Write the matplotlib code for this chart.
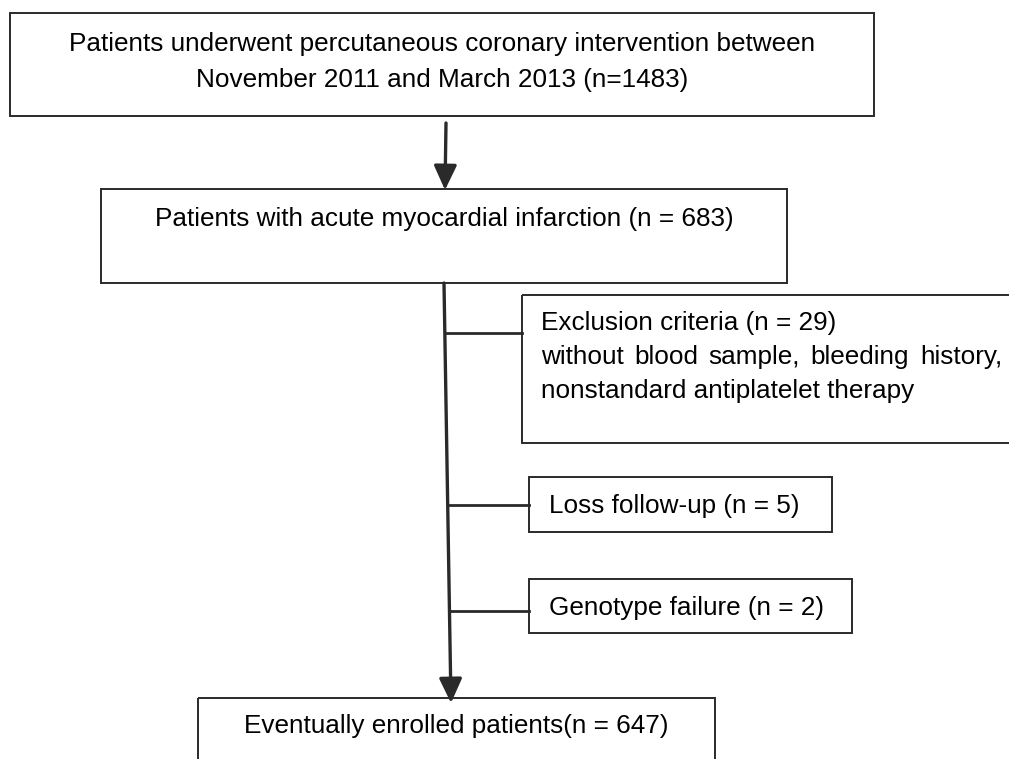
import matplotlib.pyplot as plt
from matplotlib.patches import Rectangle

plt.rcParams['font.family'] = ['Liberation Sans', 'DejaVu Sans']

# flowchart content
total_pci = 1483
ami = 683
excluded = 29
lost = 5
geno_fail = 2
enrolled = 647

top_lines = ['Patients underwent percutaneous coronary intervention between',
             f'November 2011 and March 2013 (n={total_pci})']
ami_label = f'Patients with acute myocardial infarction (n = {ami})'
excl_lines = [f'Exclusion criteria (n = {excluded})',
              'without blood sample, bleeding history,',
              'nonstandard antiplatelet therapy']
lost_label = f'Loss follow-up (n = {lost})'
geno_label = f'Genotype failure (n = {geno_fail})'
final_label = f'Eventually enrolled patients(n = {enrolled})'

fig = plt.figure(figsize=(10.09, 7.59), dpi=100)
ax = fig.add_axes([0, 0, 1, 1])
ax.set_xlim(0, 1009)
ax.set_ylim(759, 0)
ax.axis('off')

ec = '#2a2a2a'
fs = 18.8


def box(x0, y0, x1, y1):
    ax.add_patch(Rectangle((x0, y0), x1 - x0, y1 - y0, fill=False,
                           ec=ec, lw=1.4, clip_on=False))


# boxes
box(10, 13, 874, 116)
box(101, 189, 787, 283)
box(522, 295, 1015, 443)
box(529, 477, 832, 532)
box(529, 579, 852, 633)
box(198, 698, 715, 790)

# texts
ax.text(442, 44, top_lines[0], ha='center', va='center', fontsize=fs)
ax.text(442, 80, top_lines[1], ha='center', va='center', fontsize=fs)
ax.text(444, 219, ami_label, ha='center', va='center', fontsize=fs)
ax.text(541, 323, excl_lines[0], ha='left', va='center', fontsize=fs)
ax.text(541, 391, excl_lines[2], ha='left', va='center', fontsize=fs)

# second exclusion line is justified across the box (541 -> 1002 px)
r = fig.canvas.get_renderer()
words = excl_lines[1].split()
wt = [ax.text(0, 357, w, ha='left', va='center', fontsize=fs) for w in words]
widths = [t.get_window_extent(r).width for t in wt]
gap = (1002 - 541 - sum(widths)) / (len(words) - 1)
x = 541
for t, w in zip(wt, widths):
    t.set_x(x)
    x += w + gap

ax.text(549, 506, lost_label, ha='left', va='center', fontsize=fs)
ax.text(549, 608, geno_label, ha='left', va='center', fontsize=fs)
ax.text(456, 726, final_label, ha='center', va='center', fontsize=fs)

# arrow between first two boxes
ax.annotate('', xy=(445, 190), xytext=(446, 123),
            arrowprops=dict(arrowstyle='-|>,head_length=0.6,head_width=0.28',
                            color=ec, lw=2.4,
                            mutation_scale=25, shrinkA=0, shrinkB=0))
# main vertical arrow down to final box
ax.annotate('', xy=(451, 703), xytext=(444, 283),
            arrowprops=dict(arrowstyle='-|>,head_length=0.6,head_width=0.28',
                            color=ec, lw=2.4,
                            mutation_scale=25, shrinkA=0, shrinkB=0))

# side branches to exclusion boxes
for y, x1 in [(333, 522), (505, 529), (611, 529)]:
    xm = 444 + (451 - 444) * (y - 283) / (703 - 283)
    ax.plot([xm, x1], [y, y], color=ec, lw=2.0)

fig.savefig('out.png', dpi=100, facecolor='white')
